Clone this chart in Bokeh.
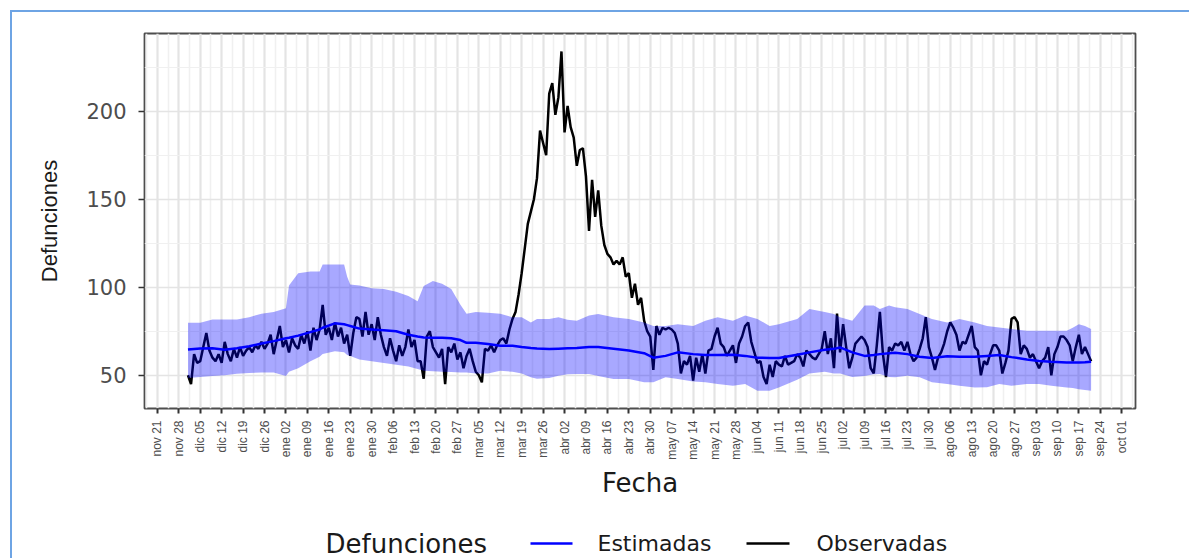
import math
import pandas as pd
from bokeh.plotting import figure
from bokeh.layouts import column
from bokeh.models import Range1d, FixedTicker
from bokeh.core.properties import value
from bokeh.embed import file_html
from bokeh.resources import INLINE

# ---------------- data ----------------
axis_origin = "2019-11-21"
tick_labels = ["nov 21", "nov 28", "dic 05", "dic 12", "dic 19", "dic 26",
               "ene 02", "ene 09", "ene 16", "ene 23", "ene 30", "feb 06",
               "feb 13", "feb 20", "feb 27", "mar 05", "mar 12", "mar 19",
               "mar 26", "abr 02", "abr 09", "abr 16", "abr 23", "abr 30",
               "may 07", "may 14", "may 21", "may 28", "jun 04", "jun 11",
               "jun 18", "jun 25", "jul 02", "jul 09", "jul 16", "jul 23",
               "jul 30", "ago 06", "ago 13", "ago 20", "ago 27", "sep 03",
               "sep 10", "sep 17", "sep 24", "oct 01"]

obs_start = "2019-12-01"
obs_dic = [50, 45, 62, 57, 58, 66, 74, 64, 60, 58, 62, 57, 69, 62, 58, 65, 60,
           66, 61, 64, 66, 63, 67, 65, 69, 65, 68, 73, 62, 70, 78]
obs_ene = [66, 70, 63, 71, 67, 65, 73, 68, 75, 64, 77, 70, 76, 90, 73, 77, 70,
           80, 72, 77, 68, 73, 61, 74, 83, 82, 72, 86, 73, 79, 70]
obs_feb = [83, 73, 66, 61, 71, 64, 58, 67, 61, 66, 76, 66, 70, 58, 58, 48, 72,
           75, 66, 63, 60, 65, 45, 66, 63, 68, 59, 63, 54]
obs_mar = [61, 65, 58, 52, 50, 46, 65, 64, 67, 63, 67, 70, 71, 68, 76, 82, 86,
           96, 108, 122, 136, 143, 150, 162, 189, 182, 175, 210, 216, 198, 208]
obs_abr = [234, 188, 203, 191, 185, 169, 178, 179, 163, 132, 161, 140, 155,
           135, 124, 119, 117, 113, 115, 113, 117, 106, 108, 94, 102, 90, 94,
           81, 75, 72]
obs_may = [53, 78, 73, 77, 76, 77, 76, 74, 68, 51, 58, 56, 61, 47, 60, 52, 62,
           51, 64, 65, 72, 77, 68, 66, 61, 64, 67, 57, 68, 72, 78]
obs_jun = [80, 69, 63, 57, 58, 49, 45, 56, 49, 58, 56, 55, 61, 56, 57, 58, 62,
           60, 55, 64, 62, 60, 59, 62, 65, 75, 62, 71, 54, 85]
obs_jul = [63, 79, 66, 54, 60, 68, 70, 72, 70, 66, 54, 51, 67, 86, 62, 49, 66,
           64, 68, 67, 69, 64, 69, 62, 58, 60, 65, 71, 83, 66, 60]
obs_ago = [53, 60, 63, 68, 75, 80, 77, 73, 64, 69, 68, 73, 78, 66, 64, 50, 58,
           56, 62, 67, 67, 64, 51, 57, 64, 82, 83, 80, 62, 67, 65]
obs_sep = [60, 62, 58, 54, 58, 60, 66, 50, 62, 66, 72, 72, 70, 67, 58, 66, 73,
           62, 66, 62, 58]
observed = (obs_dic + obs_ene + obs_feb + obs_mar + obs_abr + obs_may +
            obs_jun + obs_jul + obs_ago + obs_sep)

est_dates = ["2019-12-01", "2019-12-05", "2019-12-09", "2019-12-13",
             "2019-12-17", "2019-12-21", "2019-12-25", "2019-12-29",
             "2020-01-02", "2020-01-03", "2020-01-06", "2020-01-10",
             "2020-01-13", "2020-01-14", "2020-01-18", "2020-01-21",
             "2020-01-22", "2020-01-23", "2020-01-26", "2020-01-30",
             "2020-02-03", "2020-02-07", "2020-02-11", "2020-02-14",
             "2020-02-16", "2020-02-19", "2020-02-22", "2020-02-25",
             "2020-02-28", "2020-03-01", "2020-03-04", "2020-03-08",
             "2020-03-12", "2020-03-16", "2020-03-19", "2020-03-22",
             "2020-03-24", "2020-03-28", "2020-03-31", "2020-04-03",
             "2020-04-06", "2020-04-10", "2020-04-13", "2020-04-18",
             "2020-04-23", "2020-04-28", "2020-05-01", "2020-05-05",
             "2020-05-09", "2020-05-14", "2020-05-18", "2020-05-22",
             "2020-05-27", "2020-05-31", "2020-06-04", "2020-06-08",
             "2020-06-11", "2020-06-17", "2020-06-21", "2020-06-26",
             "2020-06-29", "2020-07-01", "2020-07-05", "2020-07-09",
             "2020-07-12", "2020-07-14", "2020-07-17", "2020-07-19",
             "2020-07-23", "2020-07-27", "2020-07-31", "2020-08-05",
             "2020-08-09", "2020-08-14", "2020-08-18", "2020-08-22",
             "2020-08-26", "2020-08-31", "2020-09-04", "2020-09-08",
             "2020-09-13", "2020-09-15", "2020-09-17", "2020-09-19",
             "2020-09-21"]
estimated = [64.6, 65.2, 65.3, 64.5, 65.3, 66.5, 68.0, 69.4, 71.0, 71.3, 72.5,
             74.5, 76.0, 77.0, 79.5, 79.0, 78.5, 78.0, 76.5, 76.0, 75.5, 75.0,
             73.0, 72.0, 71.5, 71.3, 71.3, 71.0, 70.0, 68.4, 68.4, 67.7, 66.7,
             66.8, 66.0, 65.5, 65.2, 64.9, 65.1, 65.3, 65.5, 66.0, 66.0, 65.0,
             64.0, 62.5, 60.0, 61.0, 63.0, 62.0, 61.5, 61.5, 61.7, 61.0, 60.0,
             59.8, 59.8, 61.7, 63.0, 64.5, 65.0, 65.8, 63.0, 61.0, 61.5, 62.0,
             62.5, 62.8, 62.0, 60.5, 59.8, 60.8, 60.5, 60.5, 61.0, 61.5, 60.3,
             59.0, 58.1, 57.7, 57.3, 57.3, 57.3, 57.4, 57.7]
lower = [48.5, 49.0, 49.5, 50.0, 50.8, 51.3, 51.5, 51.5, 49.5, 52.0, 54.0,
         58.0, 60.5, 62.0, 63.7, 63.0, 61.5, 61.0, 59.0, 58.0, 57.0, 56.0,
         55.0, 53.5, 52.5, 52.3, 52.0, 51.8, 51.5, 51.5, 51.0, 51.0, 52.5,
         52.0, 51.0, 48.8, 48.0, 48.5, 49.7, 50.5, 50.7, 50.7, 49.5, 47.8,
         47.8, 46.0, 46.0, 48.8, 47.8, 46.5, 46.0, 45.0, 44.0, 45.0, 41.2,
         41.2, 43.0, 47.5, 51.0, 52.0, 51.0, 51.0, 49.0, 49.5, 50.5, 50.7,
         49.0, 48.8, 49.7, 48.8, 46.0, 45.0, 44.0, 43.0, 43.2, 45.0, 44.0,
         45.0, 45.0, 44.0, 43.0, 42.8, 42.0, 41.6, 41.2]
upper = [79.8, 79.8, 81.7, 81.7, 81.7, 83.0, 85.0, 86.0, 88.0, 101.0, 108.0,
         109.0, 109.0, 113.0, 113.0, 113.0, 106.0, 101.6, 101.0, 99.5, 99.0,
         97.5, 95.0, 92.0, 100.7, 103.5, 102.0, 99.0, 90.0, 85.0, 86.0, 85.5,
         85.0, 83.0, 83.0, 80.0, 82.0, 82.0, 83.0, 81.5, 81.0, 84.0, 84.8,
         83.0, 82.0, 80.0, 78.0, 78.0, 79.0, 78.0, 81.0, 83.0, 81.0, 84.0,
         82.0, 78.0, 79.0, 82.0, 87.7, 86.0, 84.8, 83.0, 81.0, 89.6, 89.6,
         87.7, 89.6, 88.6, 87.7, 84.8, 82.0, 80.0, 82.0, 80.0, 78.0, 77.2,
         76.3, 75.3, 75.3, 75.3, 75.3, 77.0, 79.0, 78.0, 76.3]

legend_title = "Defunciones"
legend_labels = ["Estimadas", "Observadas"]
legend_colors = ["blue", "black"]

# ---------------- positions (days since axis origin) ----------------
origin = pd.Timestamp(axis_origin)
obs_x = [(d - origin).days for d in pd.date_range(obs_start, periods=len(observed))]
est_x = [(pd.Timestamp(s) - origin).days for s in est_dates]
tick_x = [7 * i for i in range(len(tick_labels))]
minor_x = [7 * i + 3.5 for i in range(-1, len(tick_labels))]

# ---------------- main figure ----------------
p = figure(width=1177, height=504, output_backend="svg", toolbar_location=None,
           x_range=Range1d(-4.2, 319.5), y_range=Range1d(31.1, 244.2),
           min_border_left=132, min_border_right=54, min_border_top=21,
           min_border_bottom=108)
p.background_fill_color = "white"
p.border_fill_color = "white"
p.outline_line_color = "#4D4D4D"
p.outline_line_width = 1.8

p.xaxis.ticker = FixedTicker(ticks=tick_x, minor_ticks=minor_x)
p.yaxis.ticker = FixedTicker(ticks=[50, 100, 150, 200],
                             minor_ticks=[25, 75, 125, 175, 225])
p.xaxis.major_label_overrides = {t: lab for t, lab in zip(tick_x, tick_labels)}

p.xgrid.grid_line_color = "#E4E4E4"
p.xgrid.grid_line_width = 2.2
p.xgrid.minor_grid_line_color = "#F0F0F0"
p.xgrid.minor_grid_line_width = 1.6
p.ygrid.grid_line_color = "#E4E4E4"
p.ygrid.grid_line_width = 1.5
p.ygrid.minor_grid_line_color = "#F0F0F0"
p.ygrid.minor_grid_line_width = 1.2

for ax in (p.xaxis, p.yaxis):
    ax.axis_line_color = None
    ax.minor_tick_line_color = None
    ax.major_tick_line_color = "#333333"
    ax.major_tick_in = 0
    ax.major_label_text_color = "#4D4D4D"
    ax.axis_label_text_color = "#1A1A1A"
    ax.axis_label_text_font_style = "normal"

p.xaxis.major_tick_out = 5
p.xaxis.major_tick_line_width = 2
p.xaxis.major_label_orientation = math.pi / 2
p.xaxis.major_label_text_font = "Liberation Sans"
p.xaxis.major_label_text_font_size = "12px"
p.xaxis.major_label_standoff = 7
p.xaxis.axis_label = "Fecha"
p.xaxis.axis_label_text_font = "DejaVu Sans"
p.xaxis.axis_label_text_font_size = "26px"
p.xaxis.axis_label_standoff = 5

p.yaxis.major_tick_out = 6
p.yaxis.major_tick_line_width = 1.5
p.yaxis.major_label_text_font = "DejaVu Sans"
p.yaxis.major_label_text_font_size = "21px"
p.yaxis.major_label_standoff = 12
p.yaxis.axis_label = "Defunciones"
p.yaxis.axis_label_text_font = "Liberation Sans"
p.yaxis.axis_label_text_font_size = "22px"
p.yaxis.axis_label_standoff = 21

p.line(obs_x, observed, line_color="black", line_width=2.5)
p.varea(x=est_x, y1=lower, y2=upper, fill_color="blue", fill_alpha=0.34)
p.line(est_x, estimated, line_color="blue", line_width=2.5)

# ---------------- legend strip (x range = page pixels over the panel) ----------------
leg = figure(width=1177, height=42, output_backend="svg", toolbar_location=None,
             x_range=Range1d(144, 1135), y_range=Range1d(0, 42),
             x_axis_type=None, y_axis_type=None, min_border=0)
leg.outline_line_color = None
leg.background_fill_color = "white"
leg.border_fill_color = "white"
leg.text(x=[325], y=[15], text=[legend_title], text_font=value("DejaVu Sans"),
         text_font_size="26px", text_color="#1A1A1A", text_baseline="middle")
leg.segment(x0=[530, 746], y0=[15, 15], x1=[572, 789], y1=[15, 15],
            line_color=legend_colors, line_width=2.5)
leg.text(x=[597, 816], y=[15, 15], text=legend_labels,
         text_font=value("DejaVu Sans"), text_font_size="22px",
         text_color="#1A1A1A", text_baseline="middle")

layout = column(p, leg, spacing=0,
                styles={"margin-left": "10px", "margin-top": "10px",
                        "border-top": "2px solid #6EA4E4",
                        "border-left": "2px solid #6EA4E4"})

open("out.html", "w").write(file_html(layout, INLINE))
